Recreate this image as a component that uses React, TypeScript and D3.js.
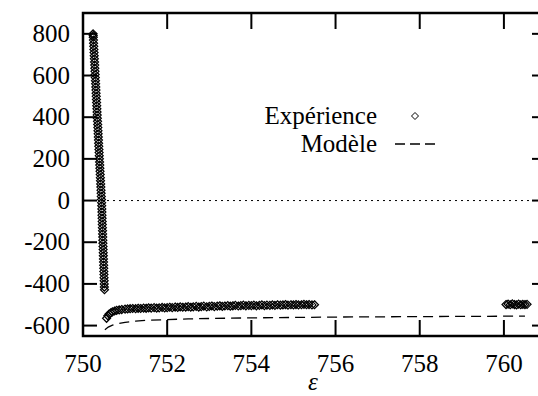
import React from "react";
import * as d3 from "d3";

const xTicks = [750, 752, 754, 756, 758, 760];
const yTicks = [800, 600, 400, 200, 0, -200, -400, -600];

const upperX = [750.24, 750.242, 750.244, 750.248, 750.251, 750.255, 750.259, 750.263, 750.266, 750.27, 750.274, 750.278, 750.281, 750.285, 750.289, 750.293, 750.296, 750.3, 750.304, 750.308, 750.311, 750.315, 750.319, 750.323, 750.326, 750.33, 750.334, 750.338, 750.341, 750.345, 750.349, 750.353, 750.356, 750.36, 750.364, 750.368, 750.371, 750.375, 750.379, 750.383, 750.386, 750.39, 750.394, 750.398, 750.401, 750.405, 750.409, 750.413, 750.416, 750.42, 750.424, 750.428, 750.431, 750.435, 750.439, 750.442, 750.444, 750.447, 750.449, 750.451, 750.454, 750.456, 750.459, 750.461, 750.464, 750.466, 750.469, 750.471, 750.473, 750.476, 750.478, 750.481, 750.483, 750.486, 750.488, 750.491, 750.493, 750.495, 750.498, 750.5, 750.503, 750.505, 750.507, 750.51];
const upperY = [800, 792, 784, 770, 755, 740, 725, 710, 695, 680, 665, 650, 635, 620, 605, 590, 575, 560, 545, 530, 515, 500, 485, 470, 455, 440, 425, 410, 395, 380, 365, 350, 335, 320, 305, 290, 275, 260, 245, 230, 215, 200, 185, 170, 155, 140, 125, 110, 95, 80, 65, 50, 35, 20, 5, -10, -25, -40, -55, -70, -85, -100, -115, -130, -145, -160, -175, -190, -205, -220, -235, -250, -265, -280, -295, -310, -325, -340, -355, -370, -385, -400, -415, -428];

const lowerX = [750.56, 750.59, 750.62, 750.66, 750.7, 750.75, 750.8, 750.86, 750.92, 751.0, 751.06, 751.12, 751.18, 751.25, 751.31, 751.37, 751.44, 751.5, 751.56, 751.62, 751.69, 751.75, 751.81, 751.88, 751.94, 752.0, 752.06, 752.12, 752.19, 752.25, 752.31, 752.37, 752.44, 752.5, 752.56, 752.62, 752.69, 752.75, 752.81, 752.87, 752.94, 753.0, 753.06, 753.12, 753.19, 753.25, 753.31, 753.37, 753.44, 753.5, 753.56, 753.62, 753.69, 753.75, 753.81, 753.87, 753.94, 754.0, 754.06, 754.12, 754.19, 754.25, 754.31, 754.37, 754.44, 754.5, 754.56, 754.62, 754.69, 754.75, 754.81, 754.87, 754.94, 755.0, 755.06, 755.12, 755.19, 755.25, 755.31, 755.37, 755.44, 755.5];
const lowerY = [-565, -553, -545, -539, -534, -530, -527, -525, -523, -521, -520, -519, -518, -519, -517, -518, -516, -517, -515, -516, -514, -516, -515, -513, -515, -514, -512, -514, -511, -513, -510, -512, -511, -509, -512, -510, -508, -511, -509, -507, -510, -508, -506, -509, -507, -505, -508, -506, -504, -507, -505, -503, -506, -504, -502, -505, -503, -504, -502, -505, -503, -501, -504, -502, -503, -501, -503, -500, -502, -501, -499, -502, -500, -501, -499, -501, -500, -498, -500, -499, -501, -500];

const clusterX = [760.05, 760.1, 760.15, 760.2, 760.25, 760.3, 760.35, 760.4, 760.45, 760.5, 760.55];
const clusterY = [-499, -497, -500, -496, -499, -501, -497, -500, -498, -499, -498];

const modelX = [750.52, 750.6, 750.7, 750.8, 751.0, 751.25, 751.5, 752.0, 752.5, 753.0, 754.0, 755.0, 756.0, 757.0, 758.0, 759.0, 760.0, 760.5];
const modelY = [-620, -607, -598, -592, -585, -579, -575, -571, -568, -566, -563, -561, -559, -558, -557, -556, -555, -555];

const FONT = "Liberation Serif, DejaVu Serif, Times New Roman, serif";

function diamond(cx: number, cy: number, r: number) {
  return `M${cx},${cy - r}L${cx + r},${cy}L${cx},${cy + r}L${cx - r},${cy}Z`;
}

export default function App() {
  const W = 538, H = 396;
  const left = 83, right = 546, top = 13, bottom = 336;
  const x = d3.scaleLinear().domain([750, 761]).range([left, right]);
  const y = d3.scaleLinear().domain([-650, 900]).range([bottom, top]);

  const expPts: [number, number][] = [
    ...upperX.map((v, i) => [v, upperY[i]] as [number, number]),
    ...lowerX.map((v, i) => [v, lowerY[i]] as [number, number]),
    ...clusterX.map((v, i) => [v, clusterY[i]] as [number, number]),
  ];
  const modelLine = d3.line<number>().x((d) => x(d)).y((_, i) => y(modelY[i]));

  return (
    <svg width={W} height={H} style={{ display: "block", position: "absolute", left: 0, top: 0, background: "#fff" }}>
      <defs>
        <clipPath id="plot">
          <rect x={left} y={top} width={right - left} height={bottom - top} />
        </clipPath>
      </defs>
      <rect x={0} y={0} width={W} height={H} fill="#fff" />
      <line x1={left} x2={right} y1={y(0)} y2={y(0)} stroke="#000" strokeWidth={1} strokeDasharray="2,4" />
      <g clipPath="url(#plot)">
        <path d={modelLine(modelX) || ""} fill="none" stroke="#000" strokeWidth={1.3} strokeDasharray="10,6" />
        {expPts.map(([px, py], i) => (
          <path key={i} d={diamond(x(px), y(py), 4)} fill="none" stroke="#000" strokeWidth={1.2} />
        ))}
      </g>
      <rect x={left} y={top} width={right - left} height={bottom - top} fill="none" stroke="#000" strokeWidth={2.5} />
      {xTicks.map((t) => (
        <g key={"x" + t}>
          <line x1={x(t)} x2={x(t)} y1={bottom} y2={bottom - 16} stroke="#000" strokeWidth={2} />
          <line x1={x(t)} x2={x(t)} y1={top} y2={top + 16} stroke="#000" strokeWidth={2} />
          <text x={x(t)} y={372} textAnchor="middle" style={{ fontFamily: FONT }} fontSize={25}>{t}</text>
        </g>
      ))}
      {yTicks.map((t) => (
        <g key={"y" + t}>
          <line x1={left} x2={left + 14} y1={y(t)} y2={y(t)} stroke="#000" strokeWidth={2} />
          <line x1={right} x2={right - 14} y1={y(t)} y2={y(t)} stroke="#000" strokeWidth={2} />
          <text x={70} y={y(t) + 8} textAnchor="end" style={{ fontFamily: FONT }} fontSize={25}>{t}</text>
        </g>
      ))}
      <text x={313} y={390} textAnchor="middle" style={{ fontFamily: FONT }} fontSize={25} fontStyle="italic">ε</text>
      <text x={377} y={124} textAnchor="end" style={{ fontFamily: FONT }} fontSize={25}>Expérience</text>
      <path d={diamond(415, 116, 3.5)} fill="none" stroke="#000" strokeWidth={1} />
      <text x={377} y={152} textAnchor="end" style={{ fontFamily: FONT }} fontSize={25}>Modèle</text>
      <line x1={395} x2={436} y1={144} y2={144} stroke="#000" strokeWidth={1.3} strokeDasharray="10,5" />
    </svg>
  );
}
